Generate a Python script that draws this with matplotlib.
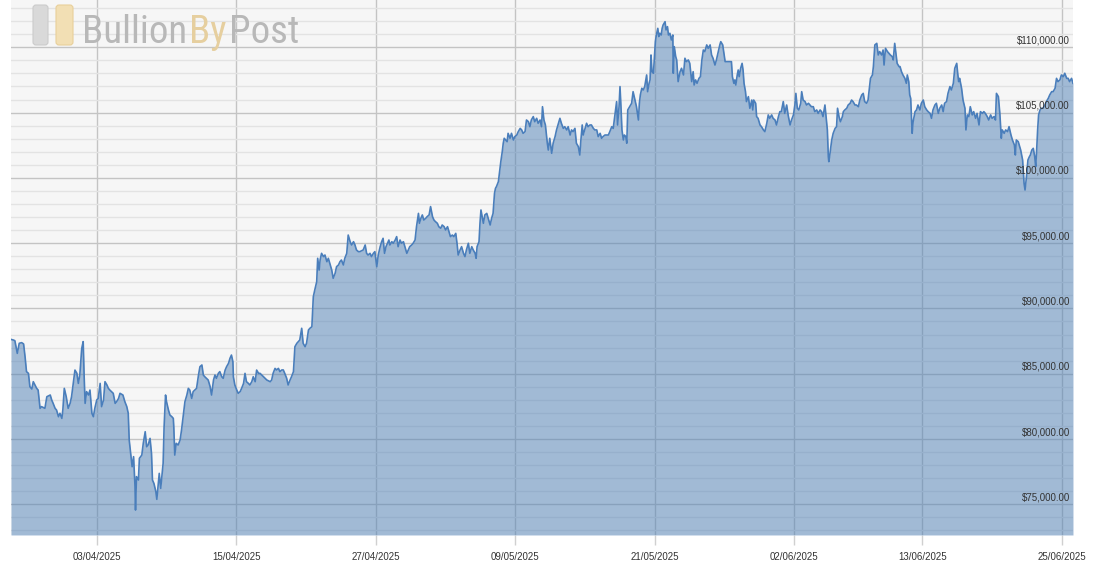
import numpy as np
import matplotlib
matplotlib.use('Agg')
import matplotlib.pyplot as plt
import matplotlib.dates as mdates
from matplotlib import font_manager
from matplotlib.patches import FancyBboxPatch
from matplotlib.transforms import blended_transform_factory, offset_copy

plt.rcParams['font.family'] = ['Liberation Sans', 'DejaVu Sans']

# ---------------- data ----------------
start_time = np.datetime64('2025-03-26T15:00')

hours_since_start = [
    0, 5, 8, 13, 17, 22, 26, 29, 32, 36, 39, 43, 46, 53, 56, 60, 63, 70, 74, 81,
    84, 87, 91, 94, 98, 101, 105, 107, 110, 114, 118, 122, 125, 129, 132, 136, 139, 142, 146, 149,
    151, 153, 156, 160, 163, 167, 170, 173, 177, 180, 184, 187, 191, 194, 198, 201, 204, 211, 215, 218,
    222, 225, 231, 235, 239, 242, 244, 247, 250, 253, 256, 257, 259, 263, 265, 270, 273, 277, 280, 283,
    287, 290, 292, 295, 299, 301, 304, 306, 309, 312, 314, 316, 319, 321, 325, 328, 332, 335, 336, 338,
    341, 345, 349, 352, 356, 359, 363, 366, 369, 373, 376, 383, 387, 390, 394, 397, 400, 407, 411, 414,
    418, 421, 424, 428, 431, 435, 438, 442, 445, 449, 452, 455, 458, 459, 462, 466, 469, 473, 476, 480,
    483, 486, 490, 493, 497, 500, 504, 507, 511, 514, 521, 528, 535, 538, 541, 545, 548, 552, 555, 559,
    562, 565, 569, 572, 576, 579, 583, 586, 590, 593, 596, 600, 603, 607, 610, 614, 617, 621, 624, 627,
    631, 633, 636, 638, 641, 645, 648, 652, 655, 658, 662, 665, 669, 672, 676, 679, 682, 686, 689, 693,
    696, 700, 703, 707, 710, 713, 717, 720, 727, 731, 734, 737, 741, 744, 748, 751, 755, 758, 762, 765,
    768, 771, 774, 777, 780, 782, 786, 789, 793, 796, 799, 803, 806, 810, 813, 817, 820, 823, 827, 830,
    834, 837, 841, 843, 846, 849, 852, 856, 859, 863, 866, 870, 873, 876, 880, 883, 887, 890, 894, 897,
    901, 904, 907, 911, 914, 918, 921, 923, 927, 930, 934, 937, 940, 944, 947, 951, 954, 958, 960, 962,
    966, 968, 970, 973, 975, 978, 982, 985, 989, 992, 995, 998, 1000, 1002, 1006, 1009, 1011, 1014, 1016, 1018,
    1021, 1024, 1026, 1030, 1033, 1037, 1040, 1044, 1047, 1051, 1054, 1057, 1061, 1064, 1068, 1071, 1074, 1078, 1081, 1085,
    1088, 1092, 1095, 1097, 1100, 1103, 1107, 1109, 1112, 1116, 1119, 1123, 1126, 1130, 1133, 1136, 1140, 1143, 1147, 1150,
    1154, 1157, 1160, 1164, 1167, 1171, 1174, 1176, 1179, 1181, 1185, 1188, 1191, 1195, 1198, 1202, 1205, 1209, 1212, 1216,
    1219, 1222, 1226, 1229, 1233, 1236, 1240, 1243, 1246, 1250, 1252, 1255, 1257, 1259, 1261, 1264, 1266, 1269, 1271, 1273,
    1277, 1281, 1284, 1288, 1291, 1295, 1297, 1299, 1302, 1305, 1308, 1312, 1314, 1317, 1319, 1321, 1323, 1326, 1328, 1330,
    1332, 1335, 1337, 1339, 1342, 1344, 1346, 1350, 1352, 1355, 1357, 1360, 1363, 1366, 1367, 1369, 1372, 1374, 1377, 1381,
    1384, 1388, 1391, 1394, 1398, 1401, 1405, 1408, 1410, 1413, 1416, 1420, 1423, 1426, 1429, 1432, 1436, 1439, 1443, 1446,
    1449, 1453, 1456, 1460, 1463, 1465, 1469, 1471, 1474, 1477, 1480, 1484, 1487, 1489, 1492, 1494, 1496, 1499, 1501, 1503,
    1506, 1509, 1511, 1513, 1516, 1518, 1522, 1525, 1529, 1531, 1533, 1537, 1539, 1542, 1546, 1549, 1553, 1556, 1560, 1563,
    1566, 1570, 1573, 1577, 1580, 1584, 1587, 1590, 1594, 1597, 1601, 1604, 1608, 1611, 1615, 1618, 1620, 1623, 1626, 1630,
    1632, 1635, 1639, 1642, 1646, 1649, 1652, 1656, 1659, 1663, 1666, 1670, 1673, 1676, 1680, 1682, 1685, 1687, 1688, 1690,
    1694, 1697, 1701, 1704, 1706, 1709, 1712, 1716, 1718, 1721, 1725, 1728, 1732, 1735, 1738, 1742, 1745, 1749, 1752, 1756,
    1759, 1762, 1766, 1769, 1771, 1774, 1778, 1780, 1783, 1787, 1790, 1793, 1797, 1800, 1802, 1805, 1809, 1812, 1815, 1819,
    1821, 1824, 1826, 1829, 1833, 1835, 1838, 1841, 1845, 1848, 1850, 1853, 1855, 1857, 1860, 1862, 1866, 1869, 1872, 1876,
    1879, 1883, 1886, 1890, 1893, 1897, 1900, 1903, 1907, 1910, 1914, 1917, 1921, 1924, 1927, 1931, 1934, 1938, 1941, 1945,
    1948, 1952, 1954, 1956, 1958, 1962, 1965, 1969, 1971, 1974, 1977, 1980, 1984, 1987, 1991, 1994, 1998, 2001, 2005, 2008,
    2011, 2015, 2018, 2022, 2025, 2029, 2032, 2034, 2038, 2041, 2044, 2046, 2050, 2053, 2057, 2060, 2064, 2067, 2071, 2073,
    2075, 2079, 2082, 2084, 2088, 2091, 2093, 2096, 2099, 2102, 2104, 2107, 2110, 2113, 2115, 2117, 2119, 2121, 2124, 2127,
    2130, 2134, 2137, 2141, 2144, 2148, 2151, 2155, 2158, 2161, 2165, 2168, 2172, 2175, 2179, 2182, 2185, 2189, 2192,
]

price_usd = [
    87630, 87580, 87530, 86560, 87330, 87380, 87280, 86310, 85160, 85030, 84010, 83830, 84390, 83880, 83750, 82350, 82480, 82350, 83240, 83370,
    82990, 82730, 82350, 82220, 81710, 81970, 81580, 82220, 83880, 83240, 82350, 82730, 83240, 84390, 85280, 85030, 84260, 84900, 86940, 87460,
    84770, 82730, 83630, 83370, 83750, 81970, 81710, 82350, 82990, 83110, 84260, 82480, 82990, 84390, 84140, 83880, 83750, 83500, 82730, 82860,
    83110, 83500, 83370, 82860, 82480, 81970, 79920, 78900, 77880, 78650, 76350, 74560, 77120, 76860, 78520, 78770, 79670, 80560, 79410, 79540,
    80050, 78900, 76860, 76600, 75970, 75380, 76600, 77370, 76220, 77370, 78140, 80940, 83370, 82860, 82220, 81840, 81710, 81580, 80940, 78770,
    79670, 79540, 79920, 80690, 81970, 82860, 83370, 83880, 83750, 83110, 83630, 83880, 84900, 85540, 85670, 84900, 84770, 84520, 84010, 83370,
    84520, 84900, 84650, 85030, 85160, 84770, 84650, 85280, 85540, 85800, 86180, 86430, 85920, 84770, 84140, 83750, 83500, 83630, 83880, 84260,
    85030, 84390, 84260, 84140, 84390, 84770, 84390, 85280, 85030, 85030, 84770, 84520, 84390, 84520, 85030, 85410, 85290, 85410, 85160, 85290,
    85290, 85030, 84650, 84140, 84520, 84770, 85160, 87070, 87330, 87460, 87580, 88480, 87330, 87070, 87330, 88350, 88480, 88600, 90900, 91410,
    92050, 93840, 92940, 93710, 94220, 93970, 94090, 93580, 93840, 93450, 92940, 92310, 92690, 93200, 93330, 93580, 93710, 93330, 93840, 94220,
    95620, 95110, 94860, 95110, 94860, 94480, 94350, 94350, 94480, 94860, 94220, 94090, 94220, 93970, 94220, 94350, 93200, 94090, 94730, 95110,
    95370, 94220, 94730, 94990, 95240, 94860, 95110, 94990, 95240, 95500, 94730, 95240, 94990, 95110, 94730, 94220, 94480, 94730, 94860, 94990,
    95240, 96260, 97280, 96520, 96900, 97160, 96770, 96900, 97030, 97160, 97800, 97030, 96770, 96650, 96520, 96260, 96140, 96390, 96260, 96010,
    96260, 95880, 95500, 95620, 95500, 95750, 94860, 94090, 94480, 94730, 94220, 93970, 94480, 94990, 94220, 94730, 94480, 94220, 93840, 94730,
    95110, 96520, 97540, 96900, 96520, 97160, 97280, 96900, 96390, 96900, 97280, 98820, 99200, 99330, 99710, 100600, 101240, 102010, 102650, 103030,
    102900, 102770, 103410, 103030, 103410, 102900, 103160, 103280, 103540, 103790, 103670, 103410, 103540, 104430, 104300, 103920, 104430, 104690, 104300, 104560,
    104180, 104430, 103920, 105450, 104430, 104050, 102650, 102130, 103030, 101880, 102650, 103160, 103670, 104180, 104560, 104180, 103790, 103920, 103670, 103920,
    103280, 103670, 103540, 103790, 102650, 102390, 101750, 102770, 104050, 103280, 103790, 104180, 103920, 104050, 104050, 103790, 103670, 103670, 103160, 103410,
    103030, 103160, 103280, 103280, 103280, 103540, 103920, 103790, 104690, 105840, 104050, 105450, 106990, 105450, 103670, 102900, 103280, 103160, 102650, 105200,
    105450, 105710, 106600, 105960, 105450, 104430, 105710, 106350, 106860, 106730, 106990, 107880, 106600, 107240, 107500, 109410, 108130, 108010, 109280, 110430,
    110940, 111450, 110820, 111070, 110940, 111450, 111710, 111960, 111330, 111580, 110940, 111070, 110560, 110940, 108010, 110050, 109280, 109030, 107370, 108130,
    108390, 107880, 109160, 108900, 109030, 108770, 107370, 108130, 107110, 107500, 107240, 107620, 107750, 109030, 109790, 109670, 110180, 109920, 110180, 109410,
    109160, 108640, 109030, 109670, 110180, 110430, 110180, 109670, 108900, 108900, 108900, 108900, 108900, 107750, 107240, 107500, 107110, 107880, 108260, 107750,
    108390, 108770, 108260, 107240, 106600, 105840, 106220, 105330, 105960, 105200, 105960, 105710, 104690, 104560, 104050, 103920, 103670, 103540, 104180, 104820,
    104560, 104820, 104560, 104430, 104050, 104690, 105070, 105070, 105840, 104940, 105580, 104820, 104050, 104430, 104820, 105580, 106470, 105330, 105200, 105710,
    106600, 105960, 105840, 105580, 105710, 105580, 105450, 105450, 105070, 105200, 104940, 105200, 105070, 104690, 105580, 104820, 103670, 101620, 101240, 101750,
    102900, 103410, 103790, 103920, 105330, 104690, 104300, 104690, 105070, 105200, 105330, 105580, 105710, 105960, 105840, 105580, 105580, 105450, 105960, 106350,
    106470, 105840, 105710, 105960, 106600, 107620, 107880, 108520, 110180, 110300, 109410, 109670, 109410, 109790, 108640, 109920, 109670, 109540, 109410, 109280,
    109030, 110300, 109670, 108770, 108520, 108520, 108130, 107880, 107620, 107240, 107880, 107370, 106350, 106090, 103410, 104300, 105070, 105200, 105580, 105200,
    105710, 105960, 105450, 105200, 105070, 104940, 104560, 105200, 105580, 105710, 104940, 105330, 105580, 105070, 105710, 105840, 106470, 106990, 106730, 107240,
    108390, 108770, 108010, 107370, 107620, 106860, 105960, 105330, 103670, 104820, 104690, 105450, 104820, 105070, 104560, 104940, 104050, 105070, 104940, 105070,
    104940, 104690, 104430, 104820, 104560, 104690, 104430, 106470, 106220, 104940, 103030, 103670, 103410, 103670, 103540, 103920, 103280, 102900, 102520, 101750,
    102900, 102770, 102390, 102130, 101370, 99580, 99070, 100090, 101370, 101620, 101750, 102130, 102260, 101620, 100860, 102130, 103670, 104820, 105200, 105330,
    105330, 105580, 105840, 106090, 106350, 106600, 106600, 106860, 107620, 107370, 107500, 107880, 107750, 108010, 107620, 107620, 107370, 107620, 107240,
]

x_tick_dates = ['2025-04-03', '2025-04-15', '2025-04-27', '2025-05-09',
                '2025-05-21', '2025-06-02', '2025-06-13', '2025-06-25']
x_tick_labels = ['03/04/2025', '15/04/2025', '27/04/2025', '09/05/2025',
                 '21/05/2025', '02/06/2025', '13/06/2025', '25/06/2025']
y_tick_values = [75000, 80000, 85000, 90000, 95000, 100000, 105000, 110000]
y_tick_labels = ['$75,000.00', '$80,000.00', '$85,000.00', '$90,000.00',
                 '$95,000.00', '$100,000.00', '$105,000.00', '$110,000.00']

# ---------------- figure ----------------
W, H = 1093, 573
fig = plt.figure(figsize=(W / 100, H / 100), dpi=100)
fig.patch.set_facecolor('white')
ax = fig.add_axes([11 / W, 38 / H, 1062 / W, 535 / H])
ax.set_facecolor('#f6f6f6')

times = start_time + np.array(hours_since_start).astype('timedelta64[h]')
xv = mdates.date2num(times)
yv = np.array(price_usd, dtype=float)

y_bottom, y_top = 72650, 113620
ax.set_xlim(xv[0], xv[-1])
ax.set_ylim(y_bottom, y_top)

ax.fill_between(xv, yv, y_bottom, color='#4d7fb6', alpha=0.5, lw=0, zorder=2)
ax.plot(xv, yv, color='#4a7ebb', lw=1.2, zorder=3, solid_joinstyle='round')

# grid
ax.set_axisbelow(True)
ax.set_yticks(y_tick_values)
ax.set_yticks(np.arange(73000, 114000, 1000), minor=True)
ax.yaxis.grid(True, which='minor', color='#e3e3e3', lw=1)
ax.yaxis.grid(True, which='major', color='#c4c4c4', lw=1)
ax.tick_params(axis='y', which='both', length=0, labelleft=False, labelright=False)

tick_x = mdates.date2num(np.array(x_tick_dates, dtype='datetime64[D]'))
ax.set_xticks(tick_x)
ax.set_xticklabels(x_tick_labels)
ax.xaxis.grid(True, color='#c4c4c4', lw=1)
ax.tick_params(axis='x', length=7.2, width=1, color='#d0d0d0', pad=5,
               labelsize=7, labelcolor='#333333')

for s in ax.spines.values():
    s.set_visible(False)

# y labels drawn inside the plot, right aligned, above their gridline
trans = blended_transform_factory(ax.transAxes, ax.transData)
trans = offset_copy(trans, fig=fig, y=2, units='dots')
for v, lab in zip(y_tick_values, y_tick_labels):
    ax.text(0.9972, v, lab, transform=trans, ha='right', va='bottom',
            fontsize=7, color='#333333', zorder=6)

# ---------------- logo ----------------
fonts = font_manager.fontManager.ttflist
names = {f.name for f in fonts}
logo_kw = None
for cand in ['Liberation Sans Narrow', 'Roboto Condensed', 'Open Sans Condensed',
             'DejaVu Sans Condensed']:
    if cand in names:
        logo_kw = dict(family=cand, fontsize=28)
        break
if logo_kw is None:
    cond = [f for f in fonts if f.name == 'DejaVu Sans' and f.stretch == 'condensed']
    if cond:
        logo_kw = dict(family='DejaVu Sans', fontstretch='condensed', fontsize=26)
    else:
        logo_kw = dict(family='Liberation Sans', fontsize=24)

pt = fig.dpi_scale_trans
fig.patches.append(FancyBboxPatch((0.33, (H - 45) / 100), 0.15, 0.40,
                                  boxstyle='round,pad=0,rounding_size=0.03',
                                  transform=pt, fc='#d9d9d9', ec='#cbcbcb', lw=0.8, zorder=5))
fig.patches.append(FancyBboxPatch((0.56, (H - 45) / 100), 0.17, 0.40,
                                  boxstyle='round,pad=0,rounding_size=0.03',
                                  transform=pt, fc='#f2dfb4', ec='#e8cf9a', lw=0.8, zorder=5))
base_y = (H - 43) / H
fig.text(82 / W, base_y, 'Bullion', color='#b8b8b8', va='baseline', ha='left',
         zorder=6, **logo_kw)
fig.text(189 / W, base_y, 'By', color='#e6cf9f', va='baseline', ha='left',
         zorder=6, **logo_kw)
fig.text(229 / W, base_y, 'Post', color='#b8b8b8', va='baseline', ha='left',
         zorder=6, **logo_kw)

fig.savefig('out.png', dpi=100, facecolor='white')
